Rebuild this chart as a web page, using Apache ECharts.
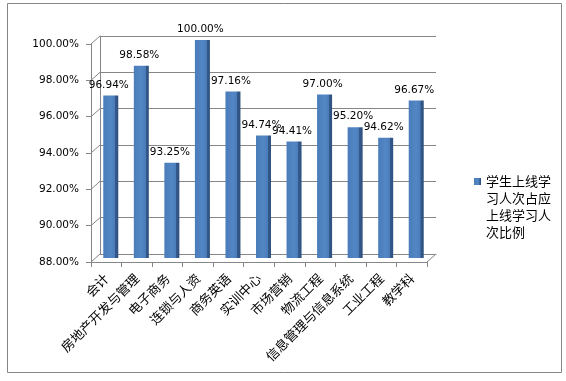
<!DOCTYPE html>
<html><head><meta charset="utf-8">
<script src="https://cdn.jsdelivr.net/npm/echarts@6/dist/echarts.min.js"></script>
<style>html,body{margin:0;padding:0;background:#fff}#c{width:566px;height:381px}</style>
</head><body><div id="c"></div>
<script>
var categories = ['会计','房地产开发与管理','电子商务','连锁与人资','商务英语','实训中心','市场营销','物流工程','信息管理与信息系统','工业工程','教学科'];
var values = [96.94, 98.58, 93.25, 100.00, 97.16, 94.74, 94.41, 97.00, 95.20, 94.62, 96.67];
var seriesName = '学生上线学习人次占应上线学习人次比例';
var yTicks = [88, 90, 92, 94, 96, 98, 100];

var DX = 9, DY = 8;
var front = {left: 91, right: 139, top: 44, bottom: 119};
var lineColor = '#868686';
var numFont = 'DejaVu Sans';
var cjkFont = 'Noto Sans CJK SC';

function shift(g, k) {
  return {left: g.left + DX * k, right: g.right - DX * k, top: g.top - DY * k, bottom: g.bottom + DY * k};
}
var back = shift(front, 1);
var mid = shift(front, 0.5);

function valAxis(idx, opts) {
  return Object.assign({
    type: 'value', gridIndex: idx, min: 88, max: 100, interval: 2,
    axisLine: {show: false}, axisTick: {show: false}, axisLabel: {show: false}, splitLine: {show: false}
  }, opts);
}
function catAxis(idx, opts) {
  return Object.assign({
    type: 'category', gridIndex: idx, data: categories,
    axisLine: {show: false}, axisTick: {show: false}, axisLabel: {show: false}, splitLine: {show: false}
  }, opts);
}

var legendText = '\n\n\n' + seriesName.match(/.{1,5}/g).join('\n');

var chart = echarts.init(document.getElementById('c'));
chart.setOption({
  animation: false,
  backgroundColor: '#fff',
  graphic: [{type: 'rect', shape: {x: 7.5, y: 3.5, width: 554, height: 369}, style: {fill: 'none', stroke: lineColor, lineWidth: 1}, silent: true, z: -10}],
  grid: [
    Object.assign({containLabel: false}, front),
    Object.assign({containLabel: false}, back),
    Object.assign({containLabel: false}, mid)
  ],
  xAxis: [
    catAxis(0, {
      axisLine: {show: true, lineStyle: {color: lineColor}},
      axisTick: {show: true, length: 5, lineStyle: {color: lineColor}},
      axisLabel: {show: true, rotate: 45, interval: 0, margin: 14, fontFamily: cjkFont, fontSize: 13, color: '#000'}
    }),
    catAxis(1, {axisLine: {show: true, lineStyle: {color: lineColor}}}),
    catAxis(2, {})
  ],
  yAxis: [
    valAxis(0, {
      axisLine: {show: true, lineStyle: {color: lineColor}},
      axisTick: {show: true, length: 5, lineStyle: {color: lineColor}},
      axisLabel: {show: true, margin: 12, fontFamily: numFont, fontSize: 10.5, color: '#000',
        formatter: function (v) { return v.toFixed(2) + '%'; }}
    }),
    valAxis(1, {
      axisLine: {show: true, lineStyle: {color: lineColor}},
      splitLine: {show: true, lineStyle: {color: lineColor}}
    }),
    valAxis(2, {})
  ],
  legend: {
    left: 474, top: 122, padding: 0, icon: 'rect', itemWidth: 7, itemHeight: 7, itemGap: 5,
    data: [seriesName],
    formatter: function () { return legendText; },
    textStyle: {fontFamily: cjkFont, fontSize: 13, lineHeight: 17, color: '#000'}
  },
  series: [
    {
      type: 'custom', xAxisIndex: 1, yAxisIndex: 1, silent: true, z: 1,
      data: yTicks.map(function (v) { return [0, v, 0]; }).concat([[categories.length - 1, 88, 1]]),
      renderItem: function (params, api) {
        var p = api.coord([api.value(0), api.value(1)]);
        var bw = api.size([1, 0])[0];
        var x = api.value(2) === 1 ? p[0] + bw / 2 : p[0] - bw / 2;
        return {type: 'line', shape: {x1: x, y1: p[1], x2: x - DX, y2: p[1] + DY},
          style: {stroke: lineColor, lineWidth: 1}};
      }
    },
    {
      name: seriesName, type: 'bar', xAxisIndex: 2, yAxisIndex: 2, z: 5,
      data: values, barWidth: 15,
      itemStyle: {
        color: {type: 'linear', x: 0, y: 0, x2: 1, y2: 0, colorStops: [
          {offset: 0, color: '#4A7CBA'}, {offset: 0.5, color: '#5386C4'}, {offset: 0.78, color: '#4A7CBA'},
          {offset: 0.79, color: '#34598A'}, {offset: 1, color: '#2E5180'}]}
      },
      label: {show: true, position: 'top', distance: 5, offset: [-2, 0], fontFamily: numFont, fontSize: 10.5, color: '#000',
        formatter: function (p) { return p.value.toFixed(2) + '%'; }}
    }
  ]
});
</script></body></html>
